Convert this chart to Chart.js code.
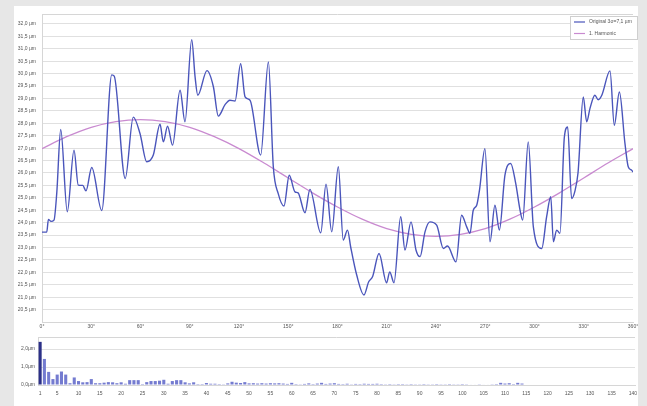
<!DOCTYPE html>
<html>
<head>
<meta charset="utf-8">
<script src="https://cdn.jsdelivr.net/npm/chart.js@4.4.1/dist/chart.umd.min.js"></script>
<style>
  html, body { margin: 0; padding: 0; background: #e7e7e7; }
  body { width: 647px; height: 406px; position: relative; overflow: hidden; }
  #panel { position: absolute; left: 14px; top: 6px; width: 624px; height: 400px; background: #fff; }
  #wrapMain { position: absolute; left: 0; top: 0; width: 624px; height: 330px; }
  #wrapBars { position: absolute; left: 0; top: 330px; width: 624px; height: 68px; }
</style>
</head>
<body>
<div id="panel">
  <div id="wrapMain"><canvas id="main"></canvas></div>
  <div id="wrapBars"><canvas id="bars"></canvas></div>
</div>
<script>
// profile (angle in degrees / deviation in µm)
const origDeg = [0, 2.9, 3.9, 5.5, 7.3, 9, 11.4, 15.4, 19.5, 22.1, 24.8, 26.8, 30.3, 36.4, 42.5, 44, 50.7,
  55.6, 59.7, 63.8, 67.8, 71.9, 73.9, 76.5, 79.5, 84.1, 87.1, 91.2, 93.2, 94.9, 100.5, 104.4, 107.4,
  111.5, 114.5, 117.6, 121, 123.7, 126.7, 133.2, 137.9, 140.9, 143.9, 147.4, 150.6, 154.1, 156, 160.2,
  163.2, 169.8, 173, 176.5, 180.5, 183.5, 186.1, 188, 191.7, 196.1, 199, 201.4, 205.3, 209.9, 211.8,
  214.4, 218.5, 221.1, 224.8, 227.8, 230.3, 233.3, 236.3, 240.4, 244.5, 247, 252.2, 255.6, 258.7,
  260.7, 262.7, 264.8, 266.5, 269.8, 272.9, 275.9, 278.6, 282, 285.5, 288.5, 291.2, 292.8, 296.2,
  299.3, 304.4, 307.4, 309.9, 311.5, 313.5, 315.5, 318.2, 320.2, 322.6, 324.5, 326.5, 329.7, 331.8,
  333.8, 336.8, 338.8, 341, 346, 348.6, 351.7, 355.1, 357.1, 359.2, 360];
const origVal = [23.62, 23.62, 24.13, 24.05, 24.1, 25.2, 27.75, 24.44, 26.92, 25.51, 25.5, 25.28, 26.22, 24.49, 29.95, 29.9, 25.78,
  28.25, 27.59, 26.45, 26.72, 27.96, 27.25, 27.88, 27.12, 29.33, 28.06, 31.37, 29.9, 29.13, 30.12, 29.47, 28.29,
  28.75, 28.93, 28.9, 30.4, 29.06, 28.93, 26.72, 30.47, 26.25, 25.17, 24.67, 25.91, 25.24, 25.2, 24.4,
  25.34, 23.59, 25.55, 23.63, 26.25, 23.3, 23.7, 23.03, 21.89, 21.09, 21.62, 21.83, 22.76, 21.58, 22.02,
  21.58, 24.24, 22.9, 24.03, 22.9, 22.63, 23.63, 24.03, 23.9, 22.96, 23.06, 22.42, 24.3, 23.83,
  23.57, 24.5, 24.7, 25.31, 26.98, 23.23, 24.7, 23.7, 25.91, 26.38, 25.6, 24.5, 24.1, 27.25,
  23.83, 22.96, 24.24, 25.04, 23.23, 23.7, 23.57, 27.45, 27.85, 24.97, 25.24, 26.0, 29.06, 28.06,
  28.6, 29.13, 28.95, 29.13, 30.11, 27.92, 29.26, 27.19, 26.25, 26.11, 26.04];

const harmDeg = [0, 15, 30, 45, 60, 75, 90, 105, 120, 135, 150, 165, 180, 195, 210, 225, 240, 255, 270, 285, 300, 315, 330, 345, 360];
const harmVal = [26.98, 27.46, 27.84, 28.07, 28.15, 28.07, 27.84, 27.46, 26.98, 26.41, 25.8, 25.19, 24.63, 24.14,
  23.76, 23.53, 23.45, 23.53, 23.76, 24.14, 24.63, 25.19, 25.8, 26.41, 26.98];

// harmonic spectrum (amplitude in µm)
const harmonicNo = Array.from({ length: 140 }, (_, i) => String(i + 1));
const amplitude = [
  2.4, 1.45, 0.73, 0.33, 0.58, 0.75, 0.58, 0.1, 0.42, 0.22,
  0.15, 0.16, 0.33, 0.1, 0.1, 0.13, 0.16, 0.15, 0.1, 0.15,
  0.07, 0.27, 0.27, 0.27, 0.05, 0.16, 0.22, 0.22, 0.24, 0.29,
  0.07, 0.22, 0.27, 0.27, 0.15, 0.09, 0.15, 0.05, 0.05, 0.11,
  0.07, 0.07, 0.05, 0.04, 0.09, 0.18, 0.13, 0.11, 0.16, 0.09,
  0.1, 0.08, 0.1, 0.08, 0.1, 0.09, 0.1, 0.08, 0.06, 0.12,
  0.05, 0.04, 0.06, 0.09, 0.05, 0.08, 0.12, 0.06, 0.08, 0.1,
  0.06, 0.05, 0.07, 0.04, 0.06, 0.05, 0.07, 0.06, 0.06, 0.07,
  0.05, 0.04, 0.05, 0.04, 0.05, 0.05, 0.04, 0.05, 0.04, 0.04,
  0.05, 0.04, 0.04, 0.05, 0.04, 0.04, 0.05, 0.04, 0.04, 0.05,
  0.04, 0.03, 0.03, 0.04, 0.03, 0.03, 0.04, 0.05, 0.12, 0.08,
  0.1, 0.05, 0.12, 0.08, 0, 0, 0, 0, 0, 0,
  0, 0, 0, 0, 0, 0, 0, 0, 0, 0,
  0, 0, 0, 0, 0, 0, 0, 0, 0, 0];

const legendLabels = ["Original 3σ=7,1 µm", "1. Harmonic"];

const BLUE = "#4a55bb";
const PINK = "#c98ad0";
Chart.defaults.font.family = '"Liberation Sans", Arial, sans-serif';
Chart.defaults.font.size = 5;
Chart.defaults.color = "#555";

function um(v, sep) {
  return v.toFixed(1).replace(".", ",") + sep + "µm";
}

// no extra room for overhanging tick labels
function noOverhang(s) {
  s.paddingLeft = 0;
  s.paddingRight = 0;
  s.paddingTop = 0;
  s.paddingBottom = 0;
}

// thin line on the top of the plot area
const topLine = {
  id: "topLine",
  afterDraw(chart) {
    const { ctx, chartArea: a } = chart;
    ctx.save();
    ctx.strokeStyle = "#d6d6d6";
    ctx.lineWidth = 1;
    ctx.beginPath();
    ctx.moveTo(a.left, a.top + 0.5);
    ctx.lineTo(a.right, a.top + 0.5);
    ctx.stroke();
    ctx.restore();
  }
};

// boxed legend in the upper right corner
const legendBox = {
  id: "legendBox",
  afterDraw(chart) {
    const ctx = chart.ctx;
    const x = 556, y = 10, w = 67, h = 23;
    ctx.save();
    ctx.fillStyle = "#fff";
    ctx.fillRect(x, y, w, h);
    ctx.strokeStyle = "#cfcfcf";
    ctx.lineWidth = 1;
    ctx.strokeRect(x + 0.5, y + 0.5, w, h);
    chart.data.datasets.forEach((ds, i) => {
      const cy = y + 6 + i * 11.5;
      ctx.strokeStyle = ds.borderColor;
      ctx.lineWidth = 1.2;
      ctx.beginPath();
      ctx.moveTo(x + 4, cy);
      ctx.lineTo(x + 15, cy);
      ctx.stroke();
      ctx.fillStyle = "#555";
      ctx.font = '5px "Liberation Sans", Arial, sans-serif';
      ctx.textBaseline = "middle";
      ctx.fillText(ds.label, x + 19, cy);
    });
    ctx.restore();
  }
};

new Chart(document.getElementById("main"), {
  type: "line",
  data: {
    datasets: [
      {
        label: legendLabels[0],
        data: origDeg.map((d, i) => ({ x: d, y: origVal[i] })),
        borderColor: BLUE,
        borderWidth: 1.4,
        pointRadius: 0,
        cubicInterpolationMode: "monotone"
      },
      {
        label: legendLabels[1],
        data: harmDeg.map((d, i) => ({ x: d, y: harmVal[i] })),
        borderColor: PINK,
        borderWidth: 1.3,
        pointRadius: 0,
        cubicInterpolationMode: "monotone"
      }
    ]
  },
  options: {
    responsive: true,
    maintainAspectRatio: false,
    animation: false,
    layout: { padding: { top: 8, right: 5, left: 0, bottom: 0 } },
    plugins: { legend: { display: false }, tooltip: { enabled: false } },
    scales: {
      x: {
        type: "linear",
        min: 0,
        max: 360,
        grid: { display: false, drawTicks: false },
        border: { color: "#d6d6d6" },
        ticks: { stepSize: 30, padding: 2, maxRotation: 0, callback: v => v + "°" },
        afterFit: s => { s.height = 14; noOverhang(s); }
      },
      y: {
        min: 20,
        max: 32.4,
        grid: { color: "#e0e0e0", lineWidth: 1, drawTicks: false },
        border: { color: "#d6d6d6" },
        ticks: {
          stepSize: 0.5,
          includeBounds: false,
          padding: 6,
          callback: v => (v <= 20 ? "" : um(v, " "))
        },
        afterFit: s => { s.width = 28; noOverhang(s); }
      }
    }
  },
  plugins: [topLine, legendBox]
});

new Chart(document.getElementById("bars"), {
  type: "bar",
  data: {
    labels: harmonicNo,
    datasets: [{
      data: amplitude,
      backgroundColor: amplitude.map((_, i) => (i === 0 ? "#2c3088" : "#747bd0")),
      barPercentage: 0.8,
      categoryPercentage: 0.9
    }]
  },
  options: {
    responsive: true,
    maintainAspectRatio: false,
    animation: false,
    layout: { padding: { top: 1, right: 3, left: 0, bottom: 0 } },
    plugins: { legend: { display: false }, tooltip: { enabled: false } },
    scales: {
      x: {
        grid: { display: false, drawTicks: false },
        border: { color: "#d6d6d6" },
        ticks: {
          autoSkip: false,
          maxRotation: 0,
          padding: 6,
          callback: (v, i) => ((i === 0 || (i + 1) % 5 === 0) ? String(i + 1) : null)
        },
        afterFit: s => { s.height = 19; noOverhang(s); }
      },
      y: {
        min: 0,
        max: 2.67,
        grid: { color: "#e0e0e0", lineWidth: 1, drawTicks: false },
        border: { color: "#d6d6d6" },
        ticks: { stepSize: 1, includeBounds: false, padding: 3, callback: v => um(v, "") },
        afterFit: s => { s.width = 24; noOverhang(s); }
      }
    }
  },
  plugins: [topLine]
});
</script>
</body>
</html>
